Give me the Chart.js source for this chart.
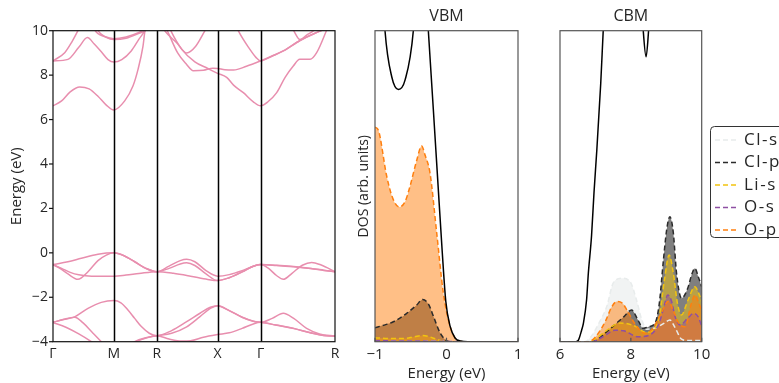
<!DOCTYPE html>
<html><head><meta charset="utf-8">
<script src="https://cdn.jsdelivr.net/npm/chart.js@4.4.1/dist/chart.umd.min.js"></script>
<style>
html,body{margin:0;padding:0;background:#fff;width:779px;height:383px;overflow:hidden;}
canvas{position:absolute;top:0;}
</style></head><body>
<canvas id="c1" width="345" height="383" style="left:0px"></canvas>
<canvas id="c2" width="195" height="383" style="left:345px"></canvas>
<canvas id="c3" width="239" height="383" style="left:540px"></canvas>
<script>
// ---------- Band structure data (k-path distance, energy eV) ----------
const kTicks = [0, 0.7071, 1.2071, 1.9142, 2.4142, 3.2802];
const kLabels = ['Γ', 'M', 'R', 'X', 'Γ', 'R'];
const energyTicks = [-4, -2, 0, 2, 4, 6, 8, 10];

const bandV1 = [[0,-0.53],[0.174,-0.40],[0.33,-0.245],[0.523,-0.065],[0.7071,0],[0.82,-0.12],[0.95,-0.4],[1.08,-0.7],[1.2071,-0.85],[1.35,-0.6],[1.48,-0.35],[1.555,-0.29],[1.65,-0.4],[1.78,-0.8],[1.9142,-1.05],[2.05,-0.98],[2.2,-0.8],[2.33,-0.6],[2.4142,-0.53],[2.5,-0.68],[2.6,-1.02],[2.679,-1.19],[2.78,-0.92],[2.9,-0.56],[3.009,-0.43],[3.12,-0.55],[3.2802,-0.85]];
const bandV2 = [[0,-0.53],[0.09,-0.72],[0.174,-0.95],[0.29,-1.19],[0.407,-0.85],[0.523,-0.35],[0.62,-0.1],[0.7071,0],[0.82,-0.12],[0.95,-0.4],[1.08,-0.7],[1.2071,-0.85],[1.35,-0.7],[1.48,-0.5],[1.555,-0.45],[1.65,-0.57],[1.78,-0.95],[1.9142,-1.25],[2.05,-1.12],[2.2,-0.86],[2.33,-0.6],[2.4142,-0.53],[2.6,-0.56],[2.8,-0.62],[3.0,-0.7],[3.15,-0.78],[3.2802,-0.85]];
const bandV3 = [[0,-0.53],[0.1,-0.7],[0.2,-0.88],[0.3,-0.99],[0.45,-1.05],[0.7071,-1.05],[0.85,-1.0],[1.0,-0.93],[1.2071,-0.85],[1.4,-0.92],[1.6,-1.05],[1.8,-1.2],[1.9142,-1.25],[2.05,-1.12],[2.2,-0.86],[2.33,-0.6],[2.4142,-0.53],[2.6,-0.57],[2.8,-0.63],[3.0,-0.71],[3.15,-0.79],[3.2802,-0.85]];
const bandL1 = [[0,-3.13],[0.12,-3.0],[0.252,-2.88],[0.407,-2.5],[0.562,-2.23],[0.7071,-2.15],[0.79,-2.25],[0.872,-2.57],[0.95,-2.95],[1.028,-3.32],[1.12,-3.62],[1.2071,-3.73],[1.38,-3.5],[1.555,-3.1],[1.71,-2.72],[1.83,-2.45],[1.9142,-2.38],[2.05,-2.6],[2.2,-2.9],[2.33,-3.08],[2.4142,-3.13],[2.55,-2.95],[2.679,-2.72],[2.8,-2.95],[2.95,-3.4],[3.1,-3.65],[3.2802,-3.75]];
const bandL2 = [[0,-3.13],[0.12,-3.0],[0.252,-2.9],[0.35,-3.15],[0.45,-3.55],[0.562,-4.0],[0.7071,-4.6],[0.85,-4.3],[0.95,-4.0],[1.08,-3.82],[1.2071,-3.73],[1.38,-3.62],[1.555,-3.33],[1.71,-2.87],[1.83,-2.5],[1.9142,-2.38],[2.05,-2.6],[2.2,-2.9],[2.33,-3.08],[2.4142,-3.13],[2.6,-3.25],[2.8,-3.4],[3.0,-3.6],[3.15,-3.72],[3.2802,-3.75]];
const bandL3 = [[0,-3.13],[0.15,-3.35],[0.3,-3.65],[0.446,-4.0],[0.55,-4.3],[0.7071,-4.8],[0.85,-4.4],[0.95,-4.05],[1.08,-3.84],[1.2071,-3.73],[1.35,-3.88],[1.5,-3.97],[1.6,-3.96],[1.75,-3.8],[1.9142,-3.68],[2.05,-3.6],[2.2,-3.4],[2.33,-3.2],[2.4142,-3.13],[2.6,-3.26],[2.8,-3.41],[3.0,-3.61],[3.15,-3.72],[3.2802,-3.75]];
const bandC1 = [[0,6.62],[0.1,6.84],[0.2,7.25],[0.31,7.47],[0.42,7.38],[0.523,7.05],[0.62,6.65],[0.7071,6.43],[0.834,6.84],[0.93,7.51],[0.989,8.26],[1.047,9.31],[1.07,10.0],[1.2071,11.5],[1.37,10.0],[1.5,9.15],[1.65,8.6],[1.8,8.3],[1.9142,8.08],[2.02,7.9],[2.1,7.55],[2.214,7.21],[2.33,6.8],[2.4142,6.62],[2.5,6.8],[2.602,7.21],[2.7,7.9],[2.795,8.41],[2.87,8.71],[2.99,8.71],[3.067,9.01],[3.18,10.0],[3.2802,11]];
const bandC2 = [[0,8.64],[0.174,8.71],[0.3,9.25],[0.4,9.69],[0.48,9.4],[0.562,9.05],[0.64,8.7],[0.7071,8.59],[0.8,8.7],[0.91,9.09],[1.0,9.62],[1.07,10.0],[1.2071,11],[1.33,10.0],[1.45,9.0],[1.55,8.5],[1.632,8.2],[1.75,8.22],[1.86,8.31],[1.9142,8.3],[2.0,8.24],[2.1,8.23],[2.25,8.4],[2.4142,8.64],[2.55,8.86],[2.679,9.09],[2.873,9.56],[3.06,9.91],[3.12,10.0],[3.2802,10.4]];
const bandC3 = [[0,8.64],[0.136,9.01],[0.22,9.5],[0.29,10.0],[0.35,10.5]];
const bandC4 = [[0.45,10.4],[0.49,10.0],[0.6,9.74],[0.7071,9.64],[0.85,9.72],[1.0,9.92],[1.06,10.05],[1.15,10.5]];
const bandC5 = [[0.48,10.4],[0.523,10.0],[0.62,9.7],[0.7071,9.6],[0.85,9.66],[1.0,9.88],[1.07,10.0],[1.15,10.4]];
const bandC6 = [[1.2071,10.6],[1.30,10.0],[1.438,9.46],[1.555,9.0],[1.66,9.3],[1.768,10.0],[1.85,10.5]];
const bandC7 = [[2.1,10.5],[2.155,10.0],[2.29,9.16],[2.36,8.8],[2.4142,8.64],[2.55,8.86],[2.679,9.09],[2.873,9.56],[3.06,9.91],[3.12,10.0],[3.2802,10.4]];
const bandC8 = [[2.76,10.3],[2.8,10.0],[2.873,9.6],[2.95,9.8],[3.03,10.0],[3.1,10.3]];
const bands = [bandV1, bandV2, bandV3, bandL1, bandL2, bandL3, bandC1, bandC2, bandC3, bandC4, bandC5, bandC6, bandC7, bandC8];

// ---------- DOS data (energy eV, DOS arb. units) ----------
const seriesNames = ['Cl-s', 'Cl-p', 'Li-s', 'O-s', 'O-p'];

const vbmTotal = [[-1.0,1.6],[-0.86,1.0],[-0.766,0.852],[-0.673,0.811],[-0.58,0.841],[-0.464,1.0],[-0.36,1.4],[-0.254,1.0],[-0.185,0.75],[-0.12,0.51],[-0.06,0.29],[-0.01,0.13],[0.05,0.05],[0.12,0.012],[0.2,0.002],[0.3,0],[1.0,0]];
const vbmClS = [[-1.0,0.002],[0,0.001],[0.2,0],[1.0,0]];
const vbmClP = [[-1.0,0.045],[-0.85,0.055],[-0.744,0.064],[-0.557,0.091],[-0.417,0.118],[-0.333,0.136],[-0.25,0.12],[-0.18,0.08],[-0.091,0.029],[-0.02,0.007],[0.05,0],[1.0,0]];
const vbmLiS = [[-1.0,0.013],[-0.8,0.01],[-0.6,0.01],[-0.45,0.016],[-0.33,0.02],[-0.2,0.013],[-0.1,0.005],[0,0.001],[0.1,0],[1.0,0]];
const vbmOS = [[-1.0,0.003],[0,0.001],[0.2,0],[1.0,0]];
const vbmOP = [[-1.0,0.69],[-0.953,0.68],[-0.837,0.533],[-0.75,0.46],[-0.66,0.433],[-0.58,0.45],[-0.51,0.5],[-0.42,0.58],[-0.347,0.629],[-0.3,0.6],[-0.231,0.543],[-0.137,0.35],[-0.045,0.158],[0.049,0.05],[0.14,0.007],[0.25,0],[1.0,0]];

const cbmTotal = [[6.0,0],[6.45,0],[6.52,0.005],[6.61,0.037],[6.66,0.059],[6.75,0.134],[6.8,0.22],[6.89,0.34],[6.96,0.48],[7.04,0.617],[7.15,0.831],[7.22,1.0],[7.4,1.4],[8.0,1.6],[8.25,1.2],[8.35,1.0],[8.43,0.916],[8.5,1.0],[8.6,1.2],[10.0,1.6]];
const cbmClS = [[6.0,0],[6.7,0],[6.9,0.02],[7.1,0.06],[7.32,0.113],[7.5,0.188],[7.74,0.204],[7.98,0.193],[8.16,0.134],[8.31,0.07],[8.45,0.04],[8.7,0.045],[8.95,0.06],[9.1,0.07],[9.25,0.045],[9.43,0.008],[9.6,0.004],[10.0,0.004]];
const cbmClP = [[6.0,0],[6.9,0],[7.0,0.003],[7.3,0.03],[7.6,0.06],[7.8,0.08],[8.02,0.102],[8.2,0.07],[8.35,0.043],[8.5,0.048],[8.68,0.059],[8.8,0.12],[8.92,0.263],[9.01,0.359],[9.1,0.402],[9.2,0.349],[9.29,0.22],[9.43,0.14],[9.6,0.17],[9.73,0.22],[9.81,0.236],[9.9,0.21],[10.0,0.177]];
const cbmLiS = [[6.0,0],[6.8,0],[7.0,0.01],[7.3,0.035],[7.55,0.055],[7.7,0.06],[8.0,0.055],[8.2,0.045],[8.4,0.03],[8.6,0.035],[8.8,0.08],[8.95,0.2],[9.08,0.279],[9.2,0.22],[9.32,0.12],[9.43,0.086],[9.6,0.13],[9.81,0.177],[9.9,0.16],[10.0,0.13]];
const cbmOS = [[6.0,0],[6.9,0],[7.2,0.015],[7.55,0.037],[7.8,0.035],[8.2,0.016],[8.5,0.02],[8.8,0.06],[8.95,0.12],[9.04,0.15],[9.15,0.13],[9.25,0.08],[9.39,0.054],[9.6,0.075],[9.78,0.091],[9.9,0.08],[10.0,0.05]];
const cbmOP = [[6.0,0],[6.8,0],[7.0,0.015],[7.3,0.07],[7.45,0.11],[7.6,0.129],[7.75,0.125],[7.9,0.1],[8.1,0.06],[8.4,0.027],[8.6,0.04],[8.85,0.09],[9.06,0.13],[9.2,0.1],[9.35,0.06],[9.53,0.048],[9.7,0.12],[9.81,0.15],[9.9,0.13],[10.0,0.1]];

// ---------- styles ----------
const seriesColors = ['#e8ecec', '#2b2b2b', '#f2c40f', '#8e4fa3', '#ff7f0e'];
const seriesFills = ['rgba(228,232,232,0.5)', 'rgba(0,0,0,0.5)', 'rgba(242,196,15,0.5)', 'rgba(142,79,163,0.5)', 'rgba(255,127,14,0.5)'];
const FONT = '"Open Sans", Lato, "DejaVu Sans", sans-serif';
Chart.defaults.font.family = FONT;
Chart.defaults.font.size = 14;
Chart.defaults.color = '#262626';

const toXY = arr => arr.map(p => ({x: p[0], y: p[1]}));
const fmt = v => (v < 0 ? '\u2212' + Math.abs(v) : String(v));

function framePlugin(cfg) {
  return {
    id: 'frame_' + cfg.key,
    afterDatasetsDraw(chart) {
      const {ctx, chartArea: a, scales} = chart;
      ctx.save();
      if (cfg.vlines) {
        ctx.strokeStyle = '#000'; ctx.lineWidth = 1.5;
        cfg.vlines.forEach(v => {
          const x = Math.round(scales.x.getPixelForValue(v)) + 0.5;
          ctx.beginPath(); ctx.moveTo(x, a.top); ctx.lineTo(x, a.bottom); ctx.stroke();
        });
      }
      ctx.strokeStyle = cfg.color; ctx.lineWidth = cfg.width;
      ctx.strokeRect(a.left, a.top, a.right - a.left, a.bottom - a.top);
      if (cfg.yTicksOut) {
        scales.y.ticks.forEach(t => {
          const y = scales.y.getPixelForValue(t.value);
          ctx.beginPath(); ctx.moveTo(a.left - 4, y); ctx.lineTo(a.left, y); ctx.stroke();
        });
      }
      if (cfg.xTicksIn) {
        scales.x.ticks.forEach(t => {
          const x = scales.x.getPixelForValue(t.value);
          ctx.beginPath(); ctx.moveTo(x, a.bottom); ctx.lineTo(x, a.bottom - 4); ctx.stroke();
        });
      }
      ctx.restore();
    }
  };
}

// ---------- Chart 1: band structure ----------
new Chart(document.getElementById('c1'), {
  type: 'line',
  data: {
    datasets: bands.map(b => ({
      data: toXY(b), borderColor: '#e88eae', borderWidth: 1.5, pointRadius: 0,
      cubicInterpolationMode: 'monotone', fill: false
    }))
  },
  options: {
    responsive: false, animation: false, events: [],
    layout: {padding: {left: 0, top: 30.7, right: 10, bottom: 0}},
    plugins: {legend: {display: false}, tooltip: {enabled: false}},
    scales: {
      x: {
        type: 'linear', min: kTicks[0], max: kTicks[kTicks.length - 1],
        grid: {display: false, drawTicks: false}, border: {display: false},
        afterBuildTicks: s => { s.ticks = kTicks.map(v => ({value: v})); },
        afterFit: s => { s.height = 41.3; },
        ticks: {autoSkip: false, maxRotation: 0, padding: 4, font: {size: 14},
                callback: (v, i) => kLabels[i]}
      },
      y: {
        min: -4, max: 10,
        grid: {display: false, drawTicks: false}, border: {display: false},
        afterBuildTicks: s => { s.ticks = energyTicks.map(v => ({value: v})); },
        afterFit: s => { s.width = 53; },
        ticks: {padding: 5, font: {size: 14}, callback: v => fmt(v)},
        title: {display: true, text: 'Energy (eV)', padding: {top: 8, bottom: 0}, font: {size: 15}}
      }
    }
  },
  plugins: [framePlugin({key: 'b', color: '#111', width: 1.2, yTicksOut: true, vlines: kTicks.slice(1, -1)})]
});

// ---------- DOS charts ----------
function dosDatasets(total, parts) {
  const ds = [{data: toXY(total), borderColor: '#000', borderWidth: 1.5, pointRadius: 0,
               cubicInterpolationMode: 'monotone', fill: false, order: 0}];
  parts.forEach((p, i) => ds.push({
    label: seriesNames[i], data: toXY(p), borderColor: seriesColors[i], backgroundColor: seriesFills[i],
    borderDash: [5, 3], borderWidth: 1.5, pointRadius: 0, cubicInterpolationMode: 'monotone',
    fill: 'origin', order: parts.length - i
  }));
  return ds;
}

function dosOptions(title, xmin, xmax, step, yTitle, yWidth, padRight) {
  return {
    responsive: false, animation: false, events: [],
    layout: {padding: {left: 0, top: 0, right: padRight, bottom: 0}},
    plugins: {
      legend: {display: false}, tooltip: {enabled: false},
      filler: {drawTime: 'beforeDatasetsDraw'},
      title: {display: true, fullSize: false, text: title, font: {size: 16, weight: 'normal'}, color: '#262626',
              padding: {top: 7, bottom: 4.5}}
    },
    scales: {
      x: {
        type: 'linear', min: xmin, max: xmax,
        grid: {display: false, drawTicks: false}, border: {display: false},
        afterFit: s => { s.height = 41.3; },
        ticks: {stepSize: step, padding: 4, maxRotation: 0, font: {size: 15}, callback: v => fmt(v)},
        title: {display: true, text: 'Energy (eV)', padding: {top: 0, bottom: 0}, font: {size: 15}}
      },
      y: {
        min: 0, max: 1,
        grid: {display: false, drawTicks: false}, border: {display: false},
        ticks: {display: false},
        afterFit: s => { s.width = yWidth; },
        title: {display: !!yTitle, text: yTitle || '', padding: {top: 11, bottom: 0}, font: {size: 14}}
      }
    }
  };
}

new Chart(document.getElementById('c2'), {
  type: 'line',
  data: {datasets: dosDatasets(vbmTotal, [vbmClS, vbmClP, vbmLiS, vbmOS, vbmOP])},
  options: dosOptions('VBM', -1, 1, 1, 'DOS (arb. units)', 30, 22),
  plugins: [framePlugin({key: 'v', color: '#555', width: 1.2, xTicksIn: true})]
});

const legendPlugin = {
  id: 'dosLegend',
  afterDraw(chart) {
    const ctx = chart.ctx;
    ctx.save();
    const x0 = 170.5, y0 = 126.5, w = 120, h = 111;
    ctx.beginPath();
    ctx.roundRect(x0, y0, w, h, 4);
    ctx.fillStyle = 'rgba(255,255,255,0.9)'; ctx.fill();
    ctx.strokeStyle = '#333'; ctx.lineWidth = 1; ctx.stroke();
    ctx.font = '17px ' + FONT; ctx.textBaseline = 'middle'; ctx.textAlign = 'left';
    if ('letterSpacing' in ctx) ctx.letterSpacing = '1.5px';
    seriesNames.forEach((n, i) => {
      const y = 140 + i * 22.5;
      ctx.strokeStyle = seriesColors[i]; ctx.lineWidth = 1.5; ctx.setLineDash([5, 3]);
      ctx.beginPath(); ctx.moveTo(175, y); ctx.lineTo(198, y); ctx.stroke();
      ctx.setLineDash([]);
      ctx.fillStyle = '#262626'; ctx.fillText(n, 204, y);
    });
    ctx.restore();
  }
};

new Chart(document.getElementById('c3'), {
  type: 'line',
  data: {datasets: dosDatasets(cbmTotal, [cbmClS, cbmClP, cbmLiS, cbmOS, cbmOP])},
  options: dosOptions('CBM', 6, 10, 2, '', 20, 77.3),
  plugins: [framePlugin({key: 'c', color: '#555', width: 1.2, xTicksIn: true}), legendPlugin]
});
</script>
</body></html>
